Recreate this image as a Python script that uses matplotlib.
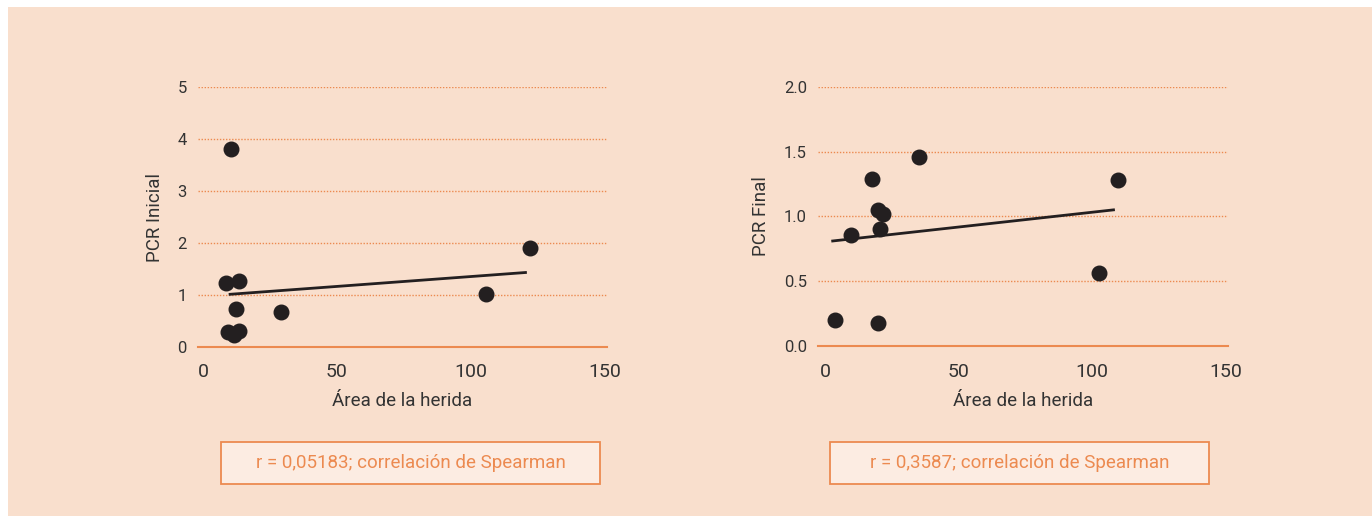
import matplotlib
matplotlib.use("Agg")
import matplotlib.pyplot as plt
from matplotlib.patches import Rectangle

plt.rcParams['font.family'] = ['Roboto', 'DejaVu Sans']

# left panel: area vs initial PCR
area_ini = [10.4, 8.5, 13.2, 12.1, 29.0, 105.9, 122.3, 9.1, 11.3, 13.2]
pcr_ini = [3.81, 1.23, 1.27, 0.72, 0.66, 1.01, 1.90, 0.29, 0.23, 0.31]
fit_ini_x = [10, 120.5]
fit_ini_y = [1.01, 1.43]

# right panel: area vs final PCR
area_fin = [3.8, 9.7, 17.7, 19.8, 21.9, 20.7, 19.9, 35.1, 102.7, 109.7]
pcr_fin = [0.20, 0.86, 1.29, 1.05, 1.02, 0.90, 0.18, 1.46, 0.565, 1.28]
fit_fin_x = [2.9, 108.1]
fit_fin_y = [0.81, 1.05]

bg = "#f9dfcd"
orange = "#ec8a50"
dark = "#231f20"
W, H = 1372, 516

fig = plt.figure(figsize=(13.72, 5.16), dpi=100)
fig.patch.set_facecolor("white")
fig.patches.append(Rectangle((8 / W, 0), 1, 1 - 7 / H, transform=fig.transFigure,
                             facecolor=bg, edgecolor="none", zorder=-10))


def panel(rect, xlim, x, y, fx, fy, ylim, yticks, yfmt, ylabel, note, box_left):
    ax = fig.add_axes(rect)
    ax.set_facecolor("none")
    ax.set_xlim(*xlim)
    ax.set_ylim(*ylim)
    ax.set_yticks(yticks)
    ax.set_yticklabels([yfmt.format(v) for v in yticks])
    ax.set_xticks([0, 50, 100, 150])
    for s in ["top", "right", "left"]:
        ax.spines[s].set_visible(False)
    ax.spines["bottom"].set_color(orange)
    ax.spines["bottom"].set_linewidth(1.5)
    ax.tick_params(length=0, colors="#333333")
    ax.tick_params(axis="x", labelsize=14, pad=12)
    ax.tick_params(axis="y", labelsize=12, pad=8)
    for v in yticks[1:]:
        ax.axhline(v, color=orange, lw=1, ls=(0, (1, 1.2)), zorder=1)
    ax.scatter(x, y, s=110, color=dark, zorder=3, clip_on=False)
    ax.plot(fx, fy, color=dark, lw=2, zorder=2)
    ax.set_xlabel("Área de la herida", fontsize=13.5, color="#333333", labelpad=8)
    ax.set_ylabel(ylabel, fontsize=13.5, color="#333333", labelpad=10)
    # boxed note under the chart
    bw, bh, btop = 379, 42, 442
    fig.patches.append(Rectangle((box_left / W, 1 - (btop + bh) / H), bw / W, bh / H,
                                 transform=fig.transFigure, facecolor="#fcece2",
                                 edgecolor=orange, linewidth=1.3, zorder=-5))
    fig.text((box_left + bw / 2) / W, 1 - (btop + bh / 2) / H, note, ha="center",
             va="center", fontsize=13.5, color=orange)
    return ax


panel([198 / W, 1 - 346.7 / H, 409 / W, 259.4 / H], (-2, 151),
      area_ini, pcr_ini, fit_ini_x, fit_ini_y, (0, 5), [0, 1, 2, 3, 4, 5], "{:g}",
      "PCR Inicial", "r = 0,05183; correlación de Spearman", 221)
panel([818 / W, 1 - 346 / H, 410 / W, 259.3 / H], (-2.6, 151),
      area_fin, pcr_fin, fit_fin_x, fit_fin_y, (0, 2), [0.0, 0.5, 1.0, 1.5, 2.0], "{:.1f}",
      "PCR Final", "r = 0,3587; correlación de Spearman", 830)

fig.savefig("out.png", dpi=100, facecolor=fig.get_facecolor())
